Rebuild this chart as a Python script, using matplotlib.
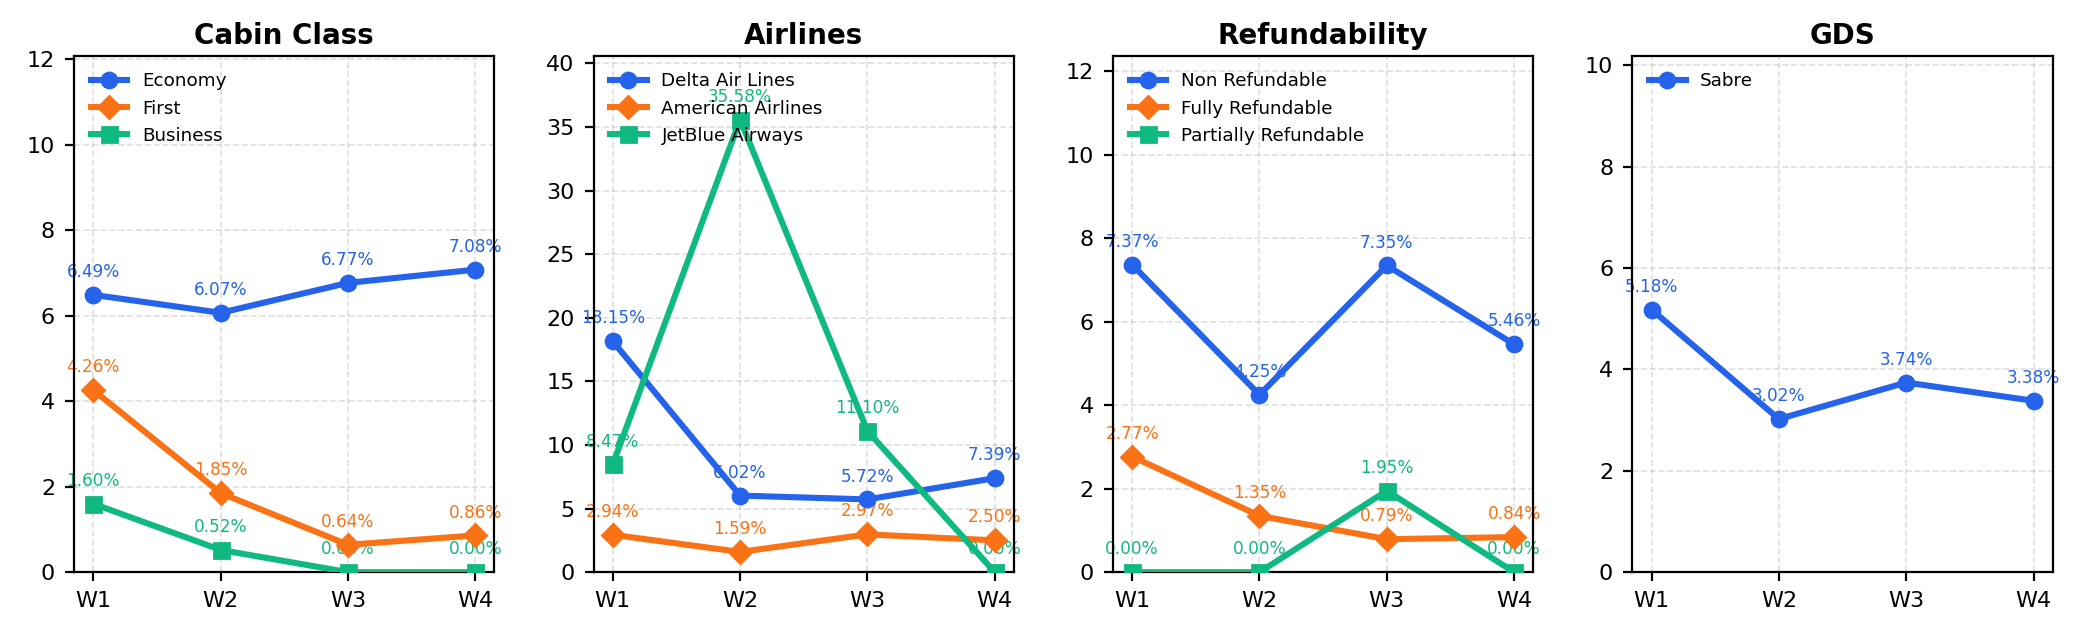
import matplotlib
matplotlib.use("Agg")
import matplotlib.pyplot as plt

weeks = ["W1", "W2", "W3", "W4"]

# Cabin Class
cabin_names = ["Economy", "First", "Business"]
economy = [6.49, 6.07, 6.77, 7.08]
first = [4.26, 1.85, 0.64, 0.86]
business = [1.60, 0.52, 0.00, 0.00]

# Airlines
airline_names = ["Delta Air Lines", "American Airlines", "JetBlue Airways"]
delta = [18.15, 6.02, 5.72, 7.39]
american = [2.94, 1.59, 2.97, 2.50]
jetblue = [8.47, 35.58, 11.10, 0.00]

# Refundability
refund_names = ["Non Refundable", "Fully Refundable", "Partially Refundable"]
non_ref = [7.37, 4.25, 7.35, 5.46]
fully_ref = [2.77, 1.35, 0.79, 0.84]
partial_ref = [0.00, 0.00, 1.95, 0.00]

# GDS
gds_names = ["Sabre"]
sabre = [5.18, 3.02, 3.74, 3.38]

panels = [
    ("Cabin Class", cabin_names, [economy, first, business]),
    ("Airlines", airline_names, [delta, american, jetblue]),
    ("Refundability", refund_names, [non_ref, fully_ref, partial_ref]),
    ("GDS", gds_names, [sabre]),
]

colors = ["#2563eb", "#f97316", "#10b981"]
markers = ["o", "D", "s"]

fig, axes = plt.subplots(1, 4, figsize=(10.43, 3.2), dpi=200)
fig.subplots_adjust(left=0.0356, right=0.984, top=0.9125, bottom=0.106, wspace=0.236)

for ax, (title, names, series) in zip(axes, panels):
    x = list(range(len(weeks)))
    top = 0
    for i, (name, vals) in enumerate(zip(names, series)):
        ax.plot(x, vals, color=colors[i], marker=markers[i], linewidth=2.2,
                markersize=5.4, label=name, zorder=3)
        # value labels sit under the lines
        for xi, v in zip(x, vals):
            ax.annotate(f"{v:.2f}%", (xi, v), xytext=(0, 5), textcoords="offset points",
                        ha="center", va="bottom", fontsize=6.1, color=colors[i], zorder=2)
        top = max(top, max(vals))
    ax.set_ylim(0, top + 5)
    ax.set_xticks(x)
    ax.set_xticklabels(weeks)
    ax.tick_params(labelsize=8, width=0.8, length=3.4)
    ax.set_title(title, fontsize=10, fontweight="bold", pad=4.3)
    ax.grid(True, linestyle="--", linewidth=0.6, alpha=0.4)
    for s in ax.spines.values():
        s.set_linewidth(0.8)
    ax.legend(loc="upper left", frameon=False, fontsize=6.6)

fig.savefig("out.png", dpi=200)
